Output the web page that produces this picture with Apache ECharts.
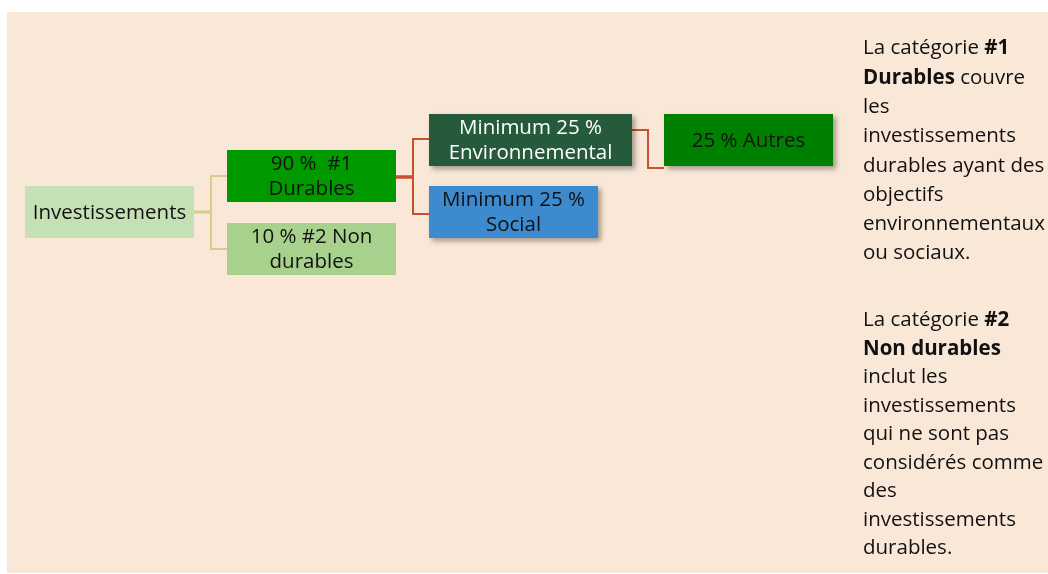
<!DOCTYPE html>
<html>
<head>
<meta charset="utf-8">
<script src="https://cdn.jsdelivr.net/npm/echarts@6/dist/echarts.min.js"></script>
<style>
html,body{margin:0;padding:0;background:#ffffff;}
#chart{width:1048px;height:574px;}
</style>
</head>
<body>
<div id="chart"></div>
<script>
// ---- data ----
const nodeNames = ['Investissements', '90 %  #1\nDurables', '10 % #2 Non\ndurables', 'Minimum 25 %\nEnvironnemental', 'Minimum 25 %\nSocial', '25 % Autres'];
const nodeParents = [-1, 0, 0, 1, 1, 3];
const noteLines1 = [['La catégorie ', '#1'], ['Durables', ' couvre'], ['les'], ['investissements'], ['durables ayant des'], ['objectifs'], ['environnementaux'], ['ou sociaux.']];
const noteLines2 = [['La catégorie ', '#2'], ['Non durables'], ['inclut les'], ['investissements'], ['qui ne sont pas'], ['considérés comme'], ['des'], ['investissements'], ['durables.']];

// ---- layout & style (not data) ----
const boxLayout = [
  {x: 25, y: 186, w: 169, h: 52, fill: '#C5E0B4', text: '#111', shadow: false},
  {x: 227, y: 150, w: 169, h: 52, fill: '#009900', text: '#111', shadow: false},
  {x: 227, y: 223, w: 169, h: 52, fill: '#A9D18E', text: '#111', shadow: false},
  {x: 429, y: 114, w: 203, h: 52, fill: '#255A3B', text: '#ffffff', shadow: true},
  {x: 429, y: 186, w: 169, h: 52, fill: '#3E8ACF', text: '#111', shadow: true},
  {x: 664, y: 114, w: 169, h: 52, fill: '#008000', text: '#111', shadow: true}
];
// connector paths in chart coordinates, per child index
const linkLayout = {
  1: {pts: [[194, 212], [211, 212], [211, 176], [227, 176]], color: '#D5CD8C', w: 2},
  2: {pts: [[194, 212], [211, 212], [211, 249], [227, 249]], color: '#D5CD8C', w: 2},
  3: {pts: [[396, 177], [413, 177], [413, 139], [429, 139]], color: '#C9502E', w: 2},
  4: {pts: [[396, 177], [413, 177], [413, 214], [429, 214]], color: '#C9502E', w: 2},
  5: {pts: [[632, 130], [648, 130], [648, 168], [664, 168]], color: '#C9502E', w: 2}
};
const FONT = '"Open Sans", Lato, sans-serif';
const FS = 20.5;
const FSB = 20.5;

const chart = echarts.init(document.getElementById('chart'), null, {renderer: 'canvas'});

const boxData = nodeNames.map((n, i) => [boxLayout[i].x, boxLayout[i].y, boxLayout[i].w, boxLayout[i].h, i]);
const linkData = nodeParents.map((p, i) => [i, p]).filter(d => d[1] >= 0);

function richLines(lines) {
  return lines.map(l => l.map((seg, k) => {
    const bold = (seg === '#1' || seg === '#2' || seg === 'Durables' || seg === 'Non durables');
    return bold ? '{b|' + seg + '}' : '{n|' + seg + '}';
  }).join('')).join('\n');
}

const option = {
  backgroundColor: '#ffffff',
  animation: false,
  grid: {left: 0, right: 0, top: 0, bottom: 0},
  xAxis: {type: 'value', min: 0, max: 1048, show: false},
  yAxis: {type: 'value', min: 0, max: 574, inverse: true, show: false},
  graphic: [
    {type: 'rect', z: -10, shape: {x: 7, y: 12, width: 1041, height: 561}, style: {fill: '#F9E7D7'}},
    {type: 'text', left: 863, top: 38, style: {
      text: richLines(noteLines1), fill: '#111', font: FS + 'px ' + FONT,
      rich: {n: {fontSize: FS, fontFamily: FONT, lineHeight: 29.3, fill: '#111'}, b: {fontSize: FS, fontFamily: FONT, fontWeight: 'bold', lineHeight: 29.3, fill: '#111'}}
    }},
    {type: 'text', left: 863, top: 310, style: {
      text: richLines(noteLines2), fill: '#111', font: FS + 'px ' + FONT,
      rich: {n: {fontSize: FS, fontFamily: FONT, lineHeight: 28.5, fill: '#111'}, b: {fontSize: FS, fontFamily: FONT, fontWeight: 'bold', lineHeight: 28.5, fill: '#111'}}
    }}
  ],
  series: [
    {
      type: 'custom', coordinateSystem: 'cartesian2d', z: 1,
      data: linkData,
      renderItem: function (params, api) {
        const child = api.value(0);
        const L = linkLayout[child];
        const pts = L.pts.map(p => api.coord(p));
        const children = [{type: 'polyline', shape: {points: pts}, style: {stroke: L.color, lineWidth: L.w, fill: null}}];
        if (child === 3) {
          children.push({type: 'line', shape: {x1: pts[0][0], y1: pts[0][1], x2: pts[1][0], y2: pts[1][1]}, style: {stroke: L.color, lineWidth: 3.5}});
        }
        if (child === 1) {
          children.push({type: 'line', shape: {x1: pts[0][0], y1: pts[0][1], x2: pts[1][0], y2: pts[1][1]}, style: {stroke: L.color, lineWidth: 3}});
        }
        return {type: 'group', children: children};
      }
    },
    {
      type: 'custom', coordinateSystem: 'cartesian2d', z: 2,
      data: boxData,
      renderItem: function (params, api) {
        const i = api.value(4);
        const B = boxLayout[i];
        const p0 = api.coord([api.value(0), api.value(1)]);
        const p1 = api.coord([api.value(0) + api.value(2), api.value(1) + api.value(3)]);
        const w = p1[0] - p0[0], h = p1[1] - p0[1];
        const rectStyle = {fill: B.fill};
        if (B.shadow) {
          rectStyle.shadowBlur = 5; rectStyle.shadowOffsetX = 3; rectStyle.shadowOffsetY = 3; rectStyle.shadowColor = 'rgba(0,0,0,0.35)';
        }
        return {
          type: 'group',
          children: [
            {type: 'rect', shape: {x: p0[0], y: p0[1], width: w, height: h}, style: rectStyle},
            {type: 'text', style: {
              text: nodeNames[i], x: p0[0] + w / 2, y: p0[1] + h / 2 + 1,
              align: 'center', verticalAlign: 'middle',
              fill: B.text, fontSize: FSB, fontFamily: FONT, lineHeight: 25
            }}
          ]
        };
      }
    }
  ]
};
chart.setOption(option);
</script>
</body>
</html>
